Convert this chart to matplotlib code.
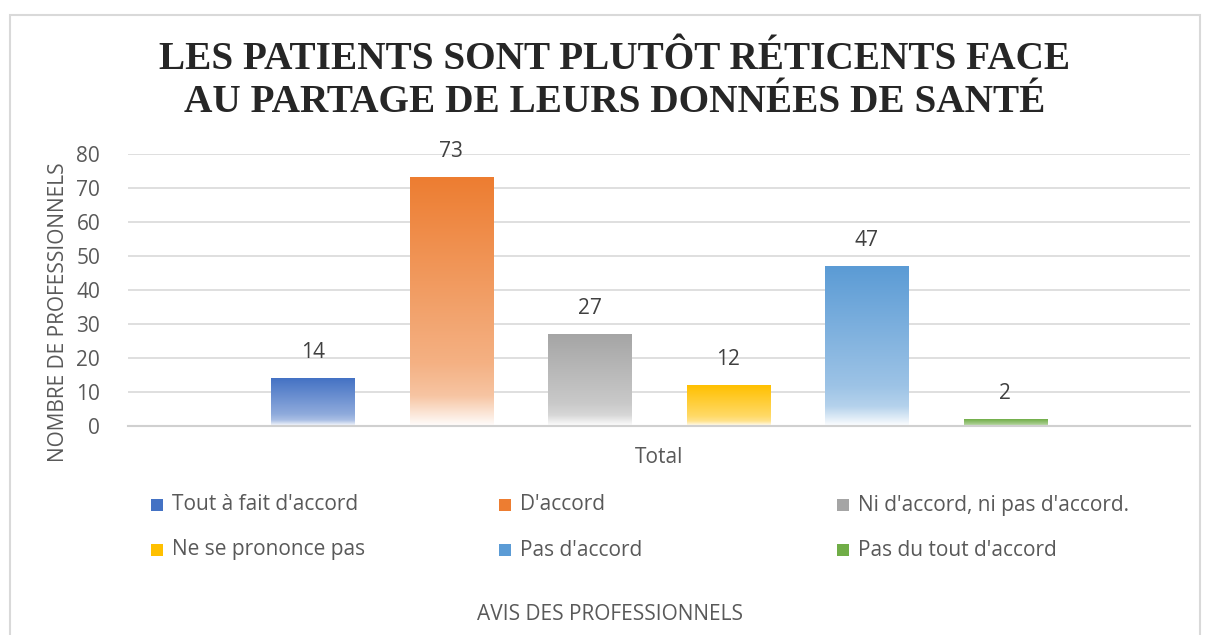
import matplotlib.pyplot as plt
import numpy as np
from matplotlib.patches import Rectangle

categories = ["Tout à fait d'accord", "D'accord", "Ni d'accord, ni pas d'accord.",
              "Ne se prononce pas", "Pas d'accord", "Pas du tout d'accord"]
values = [14, 73, 27, 12, 47, 2]
colors = ["#4472C4", "#ED7D31", "#A5A5A5", "#FFC000", "#5B9BD5", "#70AD47"]
yticks = [0, 10, 20, 30, 40, 50, 60, 70, 80]

plt.rcParams['font.family'] = ['Open Sans', 'DejaVu Sans']
txt = "#595959"
fs = 15

fig = plt.figure(figsize=(12.08, 6.35), dpi=100)
# chart frame
fig.patches.append(Rectangle((10/1208, -0.05), 1190/1208, 1 - 15/635 + 0.05,
                             transform=fig.transFigure, fill=False,
                             edgecolor="#d9d9d9", lw=1.5))

ax = fig.add_axes([128/1208, 1 - 426/635, 1062/1208, 272/635])
x = np.arange(len(values))
w = 0.6


def gradient(c):
    rgb = np.array(plt.matplotlib.colors.to_rgb(c))
    t = np.linspace(0, 1, 200)  # 0 = bottom, 1 = top
    stops_t = [0.0, 0.12, 0.25, 1.0]
    mix = [0.02, 0.45, 0.6, 1.0]  # fraction of colour (rest is white)
    m = np.interp(t, stops_t, mix)
    img = 1 - m[:, None] * (1 - rgb[None, :])
    return img[:, None, :]


bars = ax.bar(x, values, width=w, color="none", edgecolor="none", zorder=2)
for b, v, c in zip(bars, values, colors):
    x0 = b.get_x()
    ax.imshow(gradient(c), extent=(x0, x0 + w, 0, v), origin="lower",
              aspect="auto", zorder=2, interpolation="bilinear")
    ax.text(b.get_x() + w / 2, v + 4.6, str(v), ha="center", va="bottom",
            fontsize=fs, color="#404040")
ax.set_xlim(2.5 - 3.834, 2.5 + 3.834)
ax.set_ylim(0, 80)

ax.set_yticks(yticks)
ax.set_yticklabels([str(t) for t in yticks], fontsize=fs, color=txt)
ax.tick_params(axis="y", length=0, pad=20)
ax.set_xticks([2.5])
ax.set_xticklabels(["Total"], fontsize=fs, color=txt)
ax.tick_params(axis="x", length=0, pad=15)
ax.grid(axis="y", color="#d9d9d9", lw=1.2, zorder=0)
for s in ["top", "right", "left"]:
    ax.spines[s].set_visible(False)
ax.spines["bottom"].set_color("#d0d0d0")
ax.spines["bottom"].set_linewidth(1.5)

ax.set_ylabel("NOMBRE DE PROFESSIONNELS", fontsize=fs, color=txt)
ax.yaxis.set_label_coords(-0.0555, 0.42)

fig.text(615/1208, 1 - 81/635, "LES PATIENTS SONT PLUTÔT RÉTICENTS FACE\nAU PARTAGE DE LEURS DONNÉES DE SANTÉ",
         ha="center", va="center", fontsize=28.3, fontweight="bold",
         family="Liberation Serif", color="#262626", linespacing=1.2)

# legend
col_x = [157, 505, 843]
row_y = [505, 550]
for i, (lab, c) in enumerate(zip(categories, colors)):
    cx = col_x[i % 3]
    cy = row_y[i // 3]
    sw = Rectangle(((cx - 6) / 1208, 1 - (cy + 6) / 635), 12 / 1208, 12 / 635,
                   transform=fig.transFigure, facecolor=c, edgecolor="none")
    fig.patches.append(sw)
    fig.text((cx + 15) / 1208, 1 - cy / 635, lab, ha="left", va="center",
             fontsize=fs, color=txt)

fig.text(610/1208, 1 - 614/635, "AVIS DES PROFESSIONNELS", ha="center", va="center",
         fontsize=fs, color=txt)

fig.savefig("out.png", dpi=100)
